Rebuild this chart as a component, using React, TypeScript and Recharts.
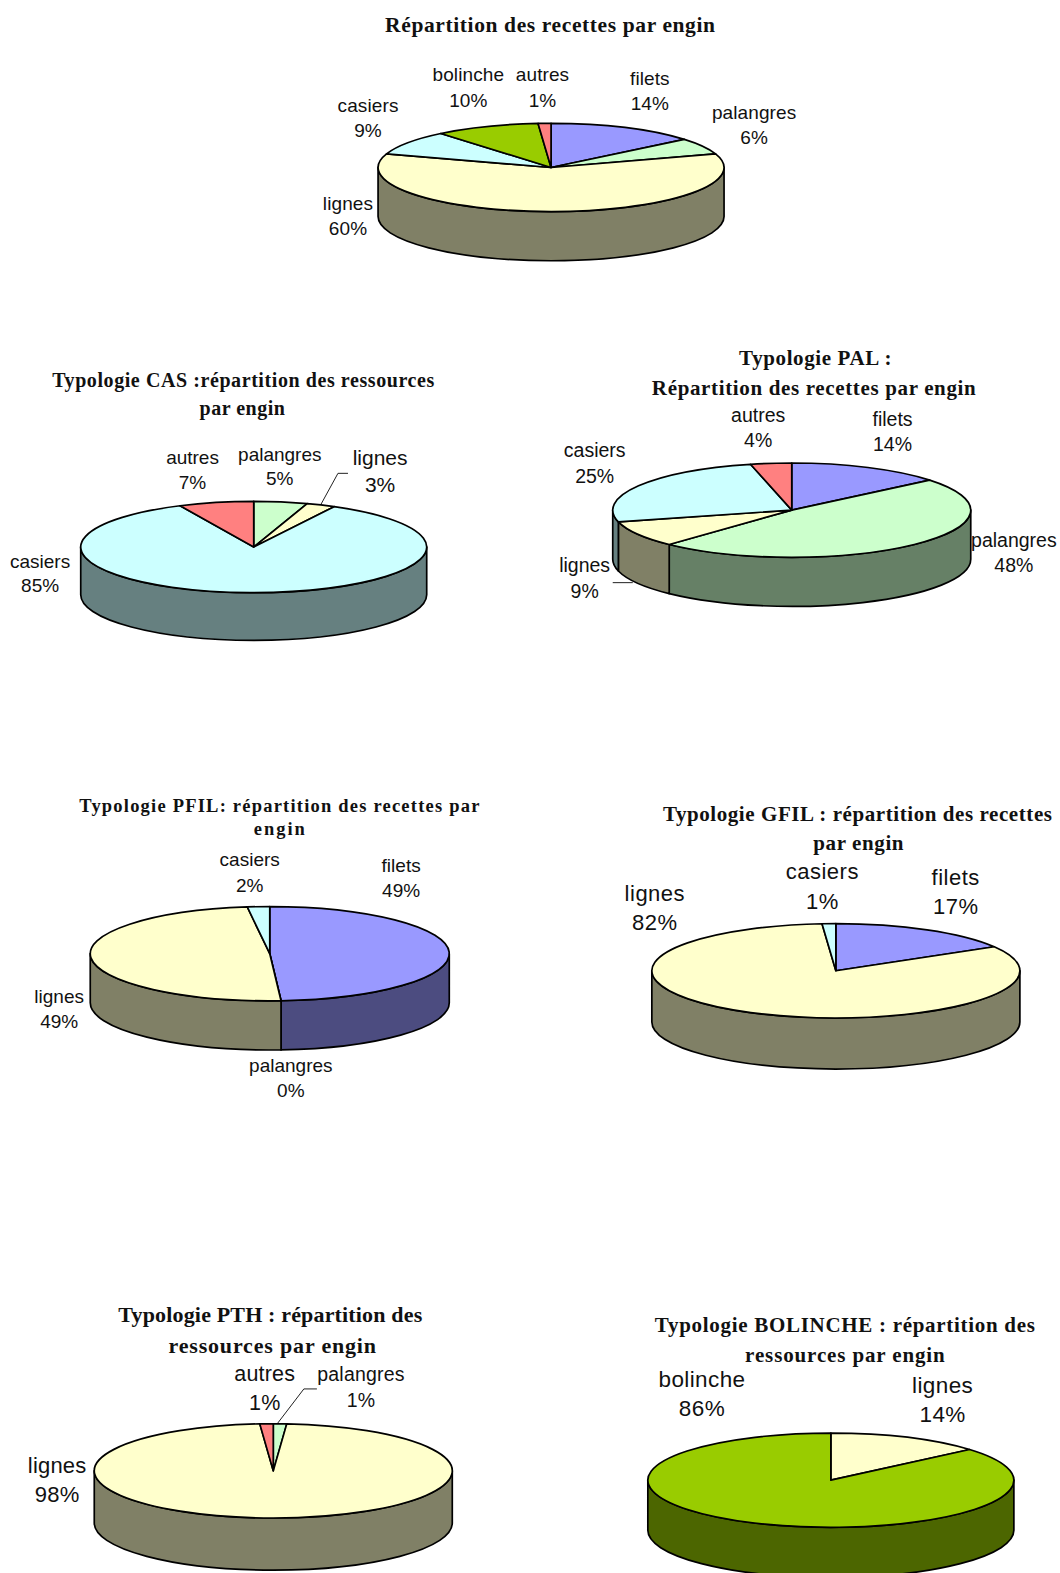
import { PieChart, Pie } from "recharts";

// Excel 3D pie palette, top face and side wall
const TOP: Record<string, string> = {
  filets: "#9999FF",
  palangres: "#CCFFCC",
  lignes: "#FFFFCC",
  casiers: "#CCFFFF",
  bolinche: "#99CC00",
  autres: "#FF8080",
};
const WALL: Record<string, string> = {
  filets: "#4C4C80",
  palangres: "#668066",
  lignes: "#808066",
  casiers: "#668080",
  bolinche: "#4C6600",
  autres: "#804040",
};

// values (slice angles give the decimals, labels show them rounded)
const globalNames = ["filets", "palangres", "lignes", "casiers", "bolinche", "autres"];
const globalValues = [14, 6, 60, 9, 9.8, 1.2];
const casNames = ["palangres", "lignes", "casiers", "autres"];
const casValues = [5, 2.7, 85.3, 7];
const palNames = ["filets", "palangres", "lignes", "casiers", "autres"];
const palValues = [14, 48, 9, 25.3, 3.7];
const pfilNames = ["filets", "palangres", "lignes", "casiers"];
const pfilValues = [49, 0, 49, 2];
const gfilNames = ["filets", "lignes", "casiers"];
const gfilValues = [16.5, 82.3, 1.2];
const pthNames = ["palangres", "lignes", "autres"];
const pthValues = [1.2, 97.6, 1.2];
const bolNames = ["lignes", "bolinche"];
const bolValues = [13.7, 86.3];

// all layout numbers below are in the shrunk 1057 wide picture
const K = 1060 / 1057;

type TitleLine = [string, number, number, number, number]; // text, x0, x1, baseline, size
type LabelPos = [number, number, number, number]; // center x, baseline 1, baseline 2, size

interface Panel {
  id: string;
  names: string[];
  values: number[];
  cx: number;
  cy: number;
  rx: number;
  ry: number;
  depth: number;
  spacing?: number;
  titles: TitleLine[];
  labels: LabelPos[];
  leader?: number[][];
}

const PANELS: Panel[] = [
  {
    id: "global",
    names: globalNames,
    values: globalValues,
    cx: 549.5, cy: 167, rx: 172.5, ry: 44, depth: 49,
    spacing: 0.1,
    titles: [["Répartition des recettes par engin", 384, 713, 32, 21.5]],
    labels: [
      [648, 85, 110, 19],
      [752, 119, 144, 19],
      [347, 209, 234, 19],
      [367, 112, 137, 19],
      [467, 81, 107, 19],
      [541, 81, 107, 19],
    ],
  },
  {
    id: "cas",
    names: casNames,
    values: casValues,
    cx: 253, cy: 545.5, rx: 172.5, ry: 45.5, depth: 47.5,
    titles: [
      ["Typologie CAS :répartition des ressources", 52, 433, 386, 20],
      ["par engin", 199, 284, 414, 20],
    ],
    labels: [
      [279, 460, 484, 19],
      [379, 464, 491, 21],
      [40, 566, 590, 19],
      [192, 463, 488, 19],
    ],
    leader: [[320, 503], [337, 472], [347, 472]],
  },
  {
    id: "pal",
    names: palNames,
    values: palValues,
    cx: 789.5, cy: 508.7, rx: 178.5, ry: 47, depth: 49,
    titles: [
      ["Typologie PAL :", 737, 889, 364, 21],
      ["Répartition des recettes par engin", 650, 973, 394, 21],
    ],
    labels: [
      [890, 425, 450, 19.5],
      [1011, 545, 570, 19.5],
      [583, 570, 596, 19.5],
      [593, 456, 482, 19.5],
      [756, 421, 446, 19.5],
    ],
    leader: [[611, 581], [631, 581]],
  },
  {
    id: "pfil",
    names: pfilNames,
    values: pfilValues,
    cx: 269, cy: 951, rx: 179, ry: 47, depth: 49,
    titles: [
      ["Typologie PFIL: répartition des recettes par", 79, 478, 810, 18.5],
      ["engin", 253, 304, 833, 18.5],
    ],
    labels: [
      [400, 870, 894, 19],
      [290, 1069, 1094, 19],
      [59, 1000, 1025, 19],
      [249, 864, 889, 19],
    ],
  },
  {
    id: "gfil",
    names: gfilNames,
    values: gfilValues,
    cx: 833.5, cy: 968, rx: 183.5, ry: 47, depth: 51,
    spacing: 0.5,
    titles: [
      ["Typologie GFIL : répartition des recettes", 661, 1049, 819, 21],
      ["par engin", 811, 901, 848, 21],
    ],
    labels: [
      [953, 882, 911, 22],
      [653, 898, 927, 22],
      [820, 877, 906, 22],
    ],
  },
  {
    id: "pth",
    names: pthNames,
    values: pthValues,
    cx: 272.5, cy: 1466.7, rx: 178.5, ry: 47, depth: 52,
    spacing: 0.2,
    titles: [
      ["Typologie PTH : répartition des", 118, 421, 1318, 22],
      ["ressources par engin", 168, 375, 1349, 22],
    ],
    labels: [
      [360, 1377, 1403, 19.5],
      [57, 1469, 1498, 22],
      [264, 1377, 1406, 21.5],
    ],
    leader: [[277, 1419], [303, 1385], [316, 1385]],
  },
  {
    id: "bol",
    names: bolNames,
    values: bolValues,
    cx: 828.5, cy: 1476, rx: 182.5, ry: 47, depth: 50,
    spacing: 0.4,
    titles: [
      ["Typologie BOLINCHE : répartition des", 653, 1032, 1328, 21],
      ["ressources par engin", 743, 942, 1358, 21],
    ],
    labels: [
      [940, 1389, 1418, 22.5],
      [700, 1383, 1412, 22.5],
    ],
  },
];

const STROKE = "#000";
const SANS = '"Liberation Sans", Arial, sans-serif';
const SERIF = '"Liberation Serif", "Times New Roman", serif';

function point(cx: number, cy: number, rx: number, ry: number, deg: number) {
  const a = (deg * Math.PI) / 180;
  return [cx + rx * Math.cos(a), cy - ry * Math.sin(a)];
}

// top face: the sector recharts computed, squashed into an ellipse
function topShape(tilt: number) {
  return (p: any) => {
    const { cx, cy, outerRadius: rx, startAngle, endAngle, name } = p;
    const ry = rx * tilt;
    const [x0, y0] = point(cx, cy, rx, ry, startAngle);
    const [x1, y1] = point(cx, cy, rx, ry, endAngle);
    const large = startAngle - endAngle > 180 ? 1 : 0;
    return (
      <path
        d={`M${cx},${cy}L${x0},${y0}A${rx},${ry} 0 ${large} 1 ${x1},${y1}Z`}
        fill={TOP[name]}
        stroke={STROKE}
        strokeWidth={1.7}
        strokeLinejoin="round"
      />
    );
  };
}

// side wall: only the front half of the rim (angles 0 to -180) shows
function wallShape(tilt: number, depth: number) {
  return (p: any) => {
    const { cx, cy, outerRadius: rx, startAngle, endAngle, name } = p;
    const ry = rx * tilt;
    const s = Math.min(startAngle, 0);
    const e = Math.max(endAngle, -180);
    if (s <= e) return <g />;
    const [x0, y0] = point(cx, cy, rx, ry, s);
    const [x1, y1] = point(cx, cy, rx, ry, e);
    return (
      <path
        d={`M${x0},${y0}A${rx},${ry} 0 0 1 ${x1},${y1}L${x1},${y1 + depth}A${rx},${ry} 0 0 0 ${x0},${y0 + depth}Z`}
        fill={WALL[name]}
        stroke={STROKE}
        strokeWidth={1.7}
        strokeLinejoin="round"
      />
    );
  };
}

function renderLabel(labels: LabelPos[], spacing: number) {
  return (p: any) => {
    const [x, y1, y2, size] = labels[p.index];
    return (
      <g key={p.index} fontFamily={SANS} fontSize={size} fill="#111" textAnchor="middle" letterSpacing={spacing}>
        <text x={x * K} y={y1 * K}>{p.name}</text>
        <text x={x * K} y={y2 * K}>{`${Math.round(p.value)}%`}</text>
      </g>
    );
  };
}

export default function App() {
  return (
    <div style={{ position: "absolute", left: 0, top: 0, width: 1060, height: 1573, overflow: "hidden", background: "#fff" }}>
      <PieChart width={1060} height={1573} margin={{ top: 0, right: 0, bottom: 0, left: 0 }}>
        {PANELS.flatMap((panel) => {
          const rows = panel.names.map((name, i) => ({ name, value: panel.values[i] }));
          const tilt = panel.ry / panel.rx;
          const common = {
            data: rows,
            dataKey: "value",
            nameKey: "name",
            cx: panel.cx * K,
            cy: panel.cy * K,
            innerRadius: 0,
            outerRadius: panel.rx * K,
            startAngle: 90,
            endAngle: -270,
            isAnimationActive: false,
          };
          return [
            <Pie key={panel.id + "-wall"} {...common} shape={wallShape(tilt, panel.depth * K)} label={false} labelLine={false} />,
            <Pie key={panel.id + "-top"} {...common} shape={topShape(tilt)} label={renderLabel(panel.labels, panel.spacing ?? 0)} labelLine={false} />,
          ];
        })}
        {PANELS.flatMap((panel) =>
          panel.titles.map(([text, x0, x1, y, size]) => (
            <text
              key={text + y}
              x={x0 * K}
              y={y * K}
              textLength={(x1 - x0) * K}
              lengthAdjust="spacing"
              fontFamily={SERIF}
              fontWeight="bold"
              fontSize={size}
              fill="#111"
            >
              {text}
            </text>
          ))
        )}
        {PANELS.filter((panel) => panel.leader).map((panel) => (
          <polyline
            key={panel.id + "-leader"}
            points={panel.leader!.map(([x, y]) => `${x * K},${y * K}`).join(" ")}
            fill="none"
            stroke="#222"
            strokeWidth={1}
          />
        ))}
      </PieChart>
    </div>
  );
}
